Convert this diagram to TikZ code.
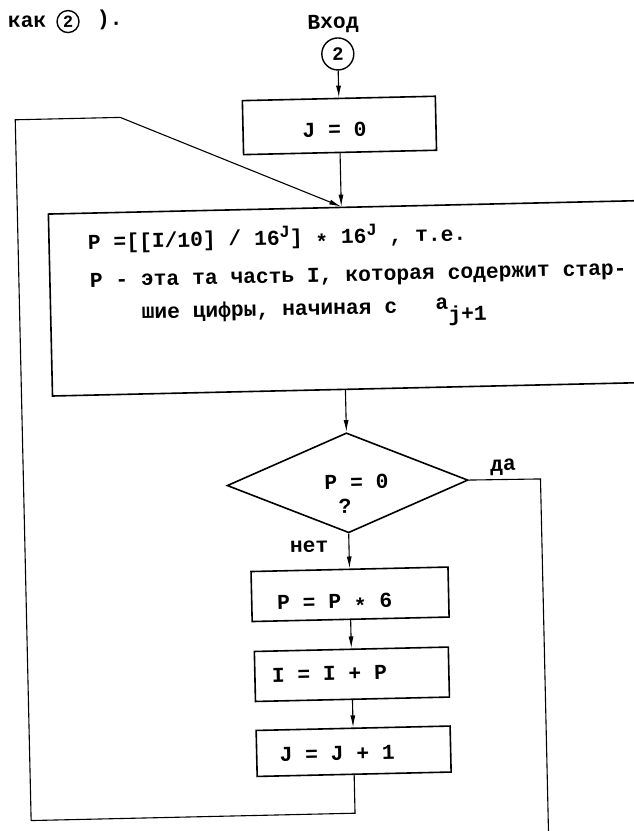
\documentclass[tikz,border=0pt]{standalone}
\usepackage{fontspec}
\newfontfamily\tw{Liberation Mono}
\usetikzlibrary{arrows.meta,shapes.geometric}
% typewriter helpers
\newcommand\raisedJ{\raisebox{7pt}{\fontsize{17}{17}\selectfont J}}
\newcommand\mult{\raisebox{-5pt}{*}}
\begin{document}
\begin{tikzpicture}[x=1pt,y=-1pt,
  txt/.style={font={\tw\bfseries\fontsize{21.3pt}{25pt}\selectfont}, inner sep=0pt, outer sep=0pt},
  blk/.style={draw, line width=1.6pt, rectangle, inner sep=0pt},
  dia/.style={draw, line width=1.6pt, diamond, inner sep=0pt, minimum width=241pt, minimum height=100pt},
  entry/.style={draw, line width=1.4pt, circle, inner sep=0pt, minimum size=32pt, font={\tw\bfseries\fontsize{19pt}{20pt}\selectfont}},
  hdrcirc/.style={draw, line width=1.4pt, circle, inner sep=0pt, minimum size=22pt, font={\tw\bfseries\fontsize{17pt}{18pt}\selectfont}},
  flow/.style={line width=1.1pt},
  arr/.style={flow, -{Latex[length=12pt,width=5pt]}}]
\fill[white] (0,0) rectangle (634,831);
\useasboundingbox (0,0) rectangle (634,831);
\clip (0,0) rectangle (634,831);
\begin{scope}[rotate around={1.3:(317,415)}, transform shape]
  % header
  \node[txt, anchor=base west] (kak) at (17,21) {как};
  \node[hdrcirc] (hdrtwo) at (77,16) {2};
  \node[txt, anchor=base west] (kakend) at (106,21) {).};
  \node[txt, anchor=base] (vhod) at (342,29) {Вход};
  \node[entry] (entry) at (346,54.5) {2};

  % J = 0
  \node[blk, minimum width=193pt, minimum height=54pt] (j0) at (346,126) {};
  \node[txt, anchor=base west] (j0t) at (309,137) {J = 0};

  % computation of P
  \node[blk, minimum width=607pt, minimum height=182pt] (calc) at (356.5,299) {};
  \node[txt, anchor=base west] (calcA) at (92,244) {P =[[I/10] / 16\raisedJ] \mult{} 16\raisedJ{} , т.е.};
  \node[txt, anchor=base west] (calcB) at (93,282) {P - эта та часть I, которая содержит стар-};
  \node[txt, anchor=base west] (calcC) at (144,315) {шие цифры, начиная с~~~\raisebox{3pt}{a}\raisebox{-9pt}{j+1}};

  % test P = 0
  \node[dia] (test) at (346,483.5) {};
  \node[txt, anchor=base west] (testA) at (323,490) {P = 0};
  \node[txt, anchor=base] (testB) at (343,514) {?};
  \node[txt, anchor=base west] (yes) at (489,475) {да};
  \node[txt, anchor=base west] (no) at (287,552) {нет};

  % update steps
  \node[blk, minimum width=197pt, minimum height=50pt] (pp6) at (346,595) {};
  \node[txt, anchor=base west] (pp6t) at (273,609) {P = P \mult{} 6};
  \node[blk, minimum width=194pt, minimum height=50pt] (iip) at (346,675) {};
  \node[txt, anchor=base west] (iipt) at (266,681) {I = I + P};
  \node[blk, minimum width=194pt, minimum height=46pt] (jj1) at (346,752) {};
  \node[txt, anchor=base west] (jj1t) at (272,761) {J = J + 1};

  % connectors
  \coordinate (merge) at (j0.south |- calc.north);
  \coordinate (calcout) at (calc.south -| test.north);
  \coordinate (loopB) at (22,814);
  \coordinate (loopT) at (22,113);
  \coordinate (loopK) at (127,113);
  \coordinate (yesTurn) at (539,484);
  \coordinate (yesEnd) at (539,860);

  \draw[arr] (entry.south) -- (j0.north);
  \draw[arr] (j0.south) -- (merge);
  \draw[arr] (calcout) -- (test.north);
  \draw[arr] (test.south) -- (pp6.north);
  \draw[arr] (pp6.south) -- (iip.north);
  \draw[arr] (iip.south) -- (jj1.north);
  \draw[arr] (jj1.south) |- (loopB) -- (loopT) -- (loopK) -- (merge);
  \draw[flow] (test.east) -- (yesTurn) -- (yesEnd);
\end{scope}
\end{tikzpicture}
\end{document}
